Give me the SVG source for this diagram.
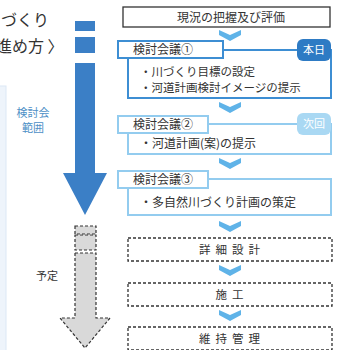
<svg xmlns="http://www.w3.org/2000/svg" width="343" height="350" viewBox="0 0 343 350">
<defs>
<style>
text{font-family:"Noto Sans CJK JP","Noto Sans",sans-serif;fill:#333;}
.t12{font-size:12px;}
.box{fill:#fff;stroke:#333;stroke-width:1.3;}
.dbox{fill:#fff;stroke:#333;stroke-width:1.3;stroke-dasharray:3 2;}
.hd1{fill:#fff;stroke:#3d8ed3;stroke-width:2;}
.hd2{fill:#fff;stroke:#93ccef;stroke-width:2;}
.ct1{fill:#fff;stroke:#3d8ed3;stroke-width:2;}
.ct2{fill:#fff;stroke:#93ccef;stroke-width:2;}
.chev{fill:#5fb3e8;}
.ctr{text-anchor:middle;}
.gray{fill:#d9d9d9;stroke:#333;stroke-width:1.2;stroke-dasharray:3 2;}
</style>
</defs>
<rect width="343" height="350" fill="#fff"/>
<rect x="-5" y="86" width="11" height="270" fill="#eef4fb" stroke="#dce8f5"/>

<g id="title">
<text x="1" y="26" style="font-size:16px">づくり</text>
<text x="-4" y="52" style="font-size:16px">進め方 〉</text>
</g>

<g id="blue-arrow">
<rect x="75" y="21" width="20" height="10" fill="#3b7fc6"/>
<rect x="75" y="37" width="20" height="16" fill="#3b7fc6"/>
<polygon points="75,63 95,63 95,173 107,173 85,215 63,173 75,173" fill="#3b7fc6"/>
<text x="33" y="117" class="ctr" style="font-size:11px;fill:#4d8fc6">検討会</text>
<text x="33" y="132" class="ctr" style="font-size:11px;fill:#4d8fc6">範囲</text>
</g>

<g id="gray-arrow">
<rect class="gray" x="75" y="226" width="21" height="8"/>
<rect class="gray" x="75" y="235" width="21" height="15"/>
<polygon class="gray" points="75,253 96,253 96,318 110,318 85,348 60,318 75,318"/>
<text x="47" y="280" class="ctr" style="font-size:11px">予定</text>
</g>

<g id="connectors">
<polygon class="chev" points="219,30 230,35 241,30 241,35 230,41 219,35"/>
<polygon class="chev" points="219,102 230,107 241,102 241,107 230,113 219,107"/>
<polygon class="chev" points="219,158 230,163 241,158 241,163 230,169 219,163"/>
<polygon class="chev" points="219,221 230,226 241,221 241,226 230,232 219,226"/>
<polygon class="chev" points="219,265 230,270 241,265 241,270 230,276 219,270"/>
<polygon class="chev" points="219,310 230,315 241,310 241,315 230,321 219,315"/>
</g>

<g id="n-genkyo">
<rect class="box" x="123" y="7" width="207" height="20"/>
<text x="231" y="21.5" class="t12 ctr">現況の把握及び評価</text>
</g>

<g id="n-kaigi1">
<rect class="ct1" x="128" y="50" width="203" height="48"/>
<rect class="hd1" x="118" y="41" width="105" height="17"/>
<text x="133" y="54" class="t12">検討会議①</text>
<rect x="297" y="39" width="34" height="22" rx="6" fill="#2e7bc4"/>
<text x="314" y="54" class="ctr" style="font-size:11px;fill:#fff">本日</text>
<text x="140" y="75.5" style="font-size:11.5px">・川づくり目標の設定</text>
<text x="140" y="91.5" style="font-size:11.5px">・河道計画検討イメージの提示</text>
</g>

<g id="n-kaigi2">
<rect class="ct2" x="128" y="124" width="203" height="30"/>
<rect class="hd2" x="118" y="116" width="90" height="17"/>
<text x="133" y="129" class="t12">検討会議②</text>
<rect x="297" y="113" width="34" height="22" rx="6" fill="#a9d8f3"/>
<text x="314" y="128" class="ctr" style="font-size:11px;fill:#fff">次回</text>
<text x="140" y="148" class="t12">・河道計画(案)の提示</text>
</g>

<g id="n-kaigi3">
<rect class="ct2" x="128" y="179" width="203" height="36"/>
<rect class="hd2" x="118" y="171" width="90" height="17"/>
<text x="133" y="184" class="t12">検討会議③</text>
<text x="140" y="207" class="t12">・多自然川づくり計画の策定</text>
</g>

<g id="n-shosai">
<rect class="dbox" x="128" y="238" width="204" height="23"/>
<text x="232" y="254" class="ctr" style="font-size:11.5px;letter-spacing:5px">詳細設計</text>
</g>

<g id="n-seko">
<rect class="dbox" x="128" y="283" width="204" height="23"/>
<text x="232" y="299" class="ctr" style="font-size:11.5px;letter-spacing:5px">施工</text>
</g>

<g id="n-iji">
<rect class="dbox" x="128" y="327" width="204" height="23"/>
<text x="232" y="343" class="ctr" style="font-size:11.5px;letter-spacing:5px">維持管理</text>
</g>
</svg>
